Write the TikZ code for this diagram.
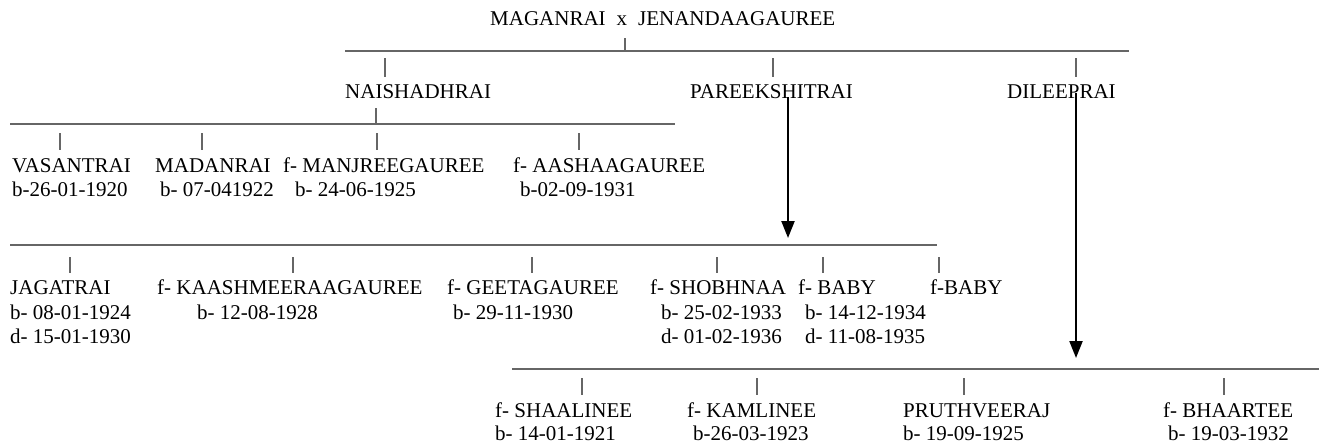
\documentclass[tikz,border=0pt]{standalone}
\usepackage{fontspec}
\setmainfont{Liberation Serif}
\usetikzlibrary{arrows.meta}
\begin{document}
\begin{tikzpicture}[x=1pt,y=-1pt,
  txt/.style={anchor=base west,inner sep=0pt,font=\fontsize{21}{24}\selectfont},
  rule/.style={draw=black!60,line width=1.1pt},
  tick/.style={draw=black!60,line width=1.1pt},
  arr/.style={draw=black,line width=2.2pt,-{Triangle[width=13pt,length=17pt]}}]
\useasboundingbox[fill=white] (0,0) rectangle (1319,447);

% ---------- generation 1 ----------
\node[txt] (root) at (490,25) {MAGANRAI\hspace{11pt}x\hspace{11pt}JENANDAAGAUREE};
\coordinate (l1a) at (345,51);
\coordinate (l1b) at (1129,51);
\coordinate (j1) at (625,38);
\draw[rule] (l1a) -- (l1b);
\draw[tick] (j1) -- (j1 |- l1a);
\foreach \x/\n in {385/a,773/b,1076/c}{
  \coordinate (t1\n) at (\x,58); \coordinate (u1\n) at (\x,77);
  \draw[tick] (t1\n) -- (u1\n);}
\node[txt] (naish)  at (345,98) {NAISHADHRAI};
\node[txt] (pareek) at (690,98) {PAREEKSHITRAI};
\node[txt] (dileep) at (1007,98) {DILEEPRAI};

% ---------- children of NAISHADHRAI ----------
\coordinate (l2a) at (10,124);
\coordinate (l2b) at (675,124);
\coordinate (j2) at (376,108);
\draw[rule] (l2a) -- (l2b);
\draw[tick] (j2) -- (j2 |- l2a);
\foreach \x/\n in {60/a,202/b,377/c,579/d}{
  \coordinate (t2\n) at (\x,133); \coordinate (u2\n) at (\x,150);
  \draw[tick] (t2\n) -- (u2\n);}
\node[txt] (vasant) at (12,172)  {VASANTRAI};
\node[txt] (madan)  at (155,172) {MADANRAI};
\node[txt] (manj)   at (283,172) {f- MANJREEGAUREE};
\node[txt] (aasha)  at (513,172) {f- AASHAAGAUREE};
\node[txt] (vasantb) at (12,196)  {b-26-01-1920};
\node[txt] (madanb)  at (160,196) {b- 07-041922};
\node[txt] (manjb)   at (295,196) {b- 24-06-1925};
\node[txt] (aashab)  at (520,196) {b-02-09-1931};

% ---------- children of PAREEKSHITRAI ----------
\coordinate (l3a) at (10,245);
\coordinate (l3b) at (937,245);
\draw[rule] (l3a) -- (l3b);
\foreach \x/\n in {70/a,293/b,532/c,717/d,823/e,939/f}{
  \coordinate (t3\n) at (\x,257); \coordinate (u3\n) at (\x,273);
  \draw[tick] (t3\n) -- (u3\n);}
\node[txt] (jagat)  at (10,294)  {JAGATRAI};
\node[txt] (kaash)  at (157,294) {f- KAASHMEERAAGAUREE};
\node[txt] (geeta)  at (447,294) {f- GEETAGAUREE};
\node[txt] (shobh)  at (650,294) {f- SHOBHNAA};
\node[txt] (baby)   at (798,294) {f- BABY};
\node[txt] (babyb)  at (930,294) {f-BABY};
\node[txt] (jagatb) at (10,319)  {b- 08-01-1924};
\node[txt] (kaashb) at (197,319) {b- 12-08-1928};
\node[txt] (geetab) at (453,319) {b- 29-11-1930};
\node[txt] (shobhb) at (661,319) {b- 25-02-1933};
\node[txt] (babyb1) at (805,319) {b- 14-12-1934};
\node[txt] (jagatd) at (10,343)  {d- 15-01-1930};
\node[txt] (shobhd) at (661,343) {d- 01-02-1936};
\node[txt] (babyd1) at (805,343) {d- 11-08-1935};

% ---------- children of DILEEPRAI ----------
\coordinate (l4a) at (512,369);
\coordinate (l4b) at (1319,369);
\draw[rule] (l4a) -- (l4b);
\foreach \x/\n in {582/a,757/b,964/c,1224/d}{
  \coordinate (t4\n) at (\x,378); \coordinate (u4\n) at (\x,395);
  \draw[tick] (t4\n) -- (u4\n);}
\node[txt] (shaal)  at (495,417)  {f- SHAALINEE};
\node[txt] (kaml)   at (687,417)  {f- KAMLINEE};
\node[txt] (pruth)  at (903,417)  {PRUTHVEERAJ};
\node[txt] (bhaar)  at (1163,417) {f- BHAARTEE};
\node[txt] (shaalb) at (495,440)  {b- 14-01-1921};
\node[txt] (kamlb)  at (693,440)  {b-26-03-1923};
\node[txt] (pruthb) at (903,440)  {b- 19-09-1925};
\node[txt] (bhaarb) at (1168,440) {b- 19-03-1932};

% ---------- arrows ----------
\coordinate (a1s) at (788,97);
\coordinate (a1e) at (788,238);
\coordinate (a2s) at (1076,93);
\coordinate (a2e) at (1076,358);
\draw[arr] (a1s) -- (a1e);
\draw[arr] (a2s) -- (a2e);
\end{tikzpicture}
\end{document}
